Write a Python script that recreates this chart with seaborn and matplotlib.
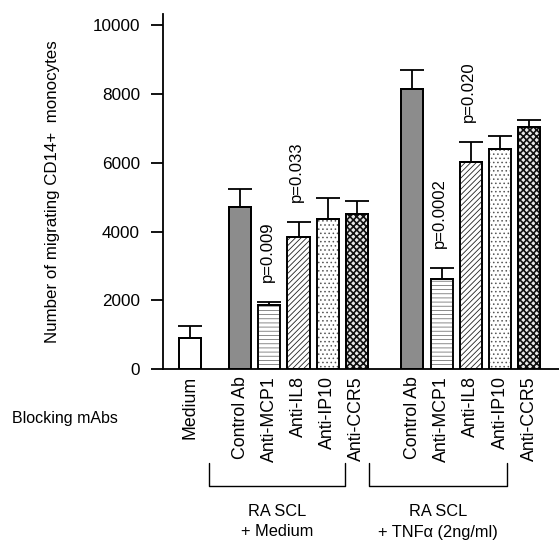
import numpy as np
import pandas as pd
import matplotlib
matplotlib.use("Agg")
import matplotlib.pyplot as plt
import seaborn as sns
from matplotlib.transforms import blended_transform_factory

# Data
labels = ["Medium", "Control Ab", "Anti-MCP1", "Anti-IL8", "Anti-IP10", "Anti-CCR5",
          "Control Ab", "Anti-MCP1", "Anti-IL8", "Anti-IP10", "Anti-CCR5"]
groups = ["none"] + ["RA SCL + Medium"] * 5 + ["RA SCL + TNFa"] * 5
means = [910, 4730, 1860, 3850, 4370, 4520, 8140, 2630, 6040, 6400, 7050]
errs = [350, 510, 90, 440, 620, 370, 550, 320, 570, 380, 185]
p_bars = [2, 3, 7, 8]
p_texts = ["p=0.009", "p=0.033", "p=0.0002", "p=0.020"]
group_titles = ["RA SCL\n+ Medium", "RA SCL\n+ TNF\u03b1 (2ng/ml)"]

sns.set_style("ticks")
plt.rcParams["font.family"] = ["Liberation Sans", "DejaVu Sans"]
plt.rcParams["hatch.linewidth"] = 0.6
for k in ["text.color", "axes.labelcolor", "xtick.color", "ytick.color",
          "axes.edgecolor"]:
    plt.rcParams[k] = "black"

# bar positions: lone medium bar, then two groups of five
pos = [0.0] + [1.72 + i for i in range(5)] + [7.62 + i for i in range(5)]
df = pd.DataFrame({"pos": pos, "label": labels, "group": groups,
                   "mean": means, "err": errs})

fig = plt.figure(figsize=(5.59, 5.40), dpi=100)
ax = fig.add_axes([0.2916, 0.3167, 0.7084, 0.6574])

sns.barplot(data=df, x="pos", y="mean", native_scale=True, color="white",
            edgecolor="black", linewidth=1.3, width=0.76, errorbar=None, ax=ax)

# fill styles per antibody: (face, hatch, hatch colour)
styles = {
    "Medium": ("white", "", "black"),
    "Control Ab": ("#8c8c8c", "", "black"),
    "Anti-MCP1": ("white", "----", "#777777"),
    "Anti-IL8": ("white", "//////", "#222222"),
    "Anti-IP10": ("white", "....", "#555555"),
    "Anti-CCR5": ("#e8e8e8", "xxxxx", "#111111"),
}
for patch, lab in zip(ax.patches, labels):
    fc, hatch, hc = styles[lab]
    patch.set_facecolor(fc)
    patch.set_hatch(hatch)
    # edge colour sets the hatch colour; the outline is drawn again below
    patch.set_edgecolor(hc)
    if lab == "Anti-CCR5":
        try:
            patch.set_hatch_linewidth(1.2)
        except AttributeError:
            pass
    x, w, h = patch.get_x(), patch.get_width(), patch.get_height()
    ax.add_patch(plt.Rectangle((x, 0), w, h, fill=False, edgecolor="black",
                               linewidth=1.3, zorder=patch.get_zorder() + 0.1))

ax.errorbar(df["pos"], df["mean"], yerr=[np.zeros(len(df)), df["err"]],
            fmt="none", ecolor="black", elinewidth=1.3, capsize=8.5, capthick=1.3)

for i, txt in zip(p_bars, p_texts):
    ax.text(pos[i] - 0.08, means[i] + errs[i] + 580, txt, rotation=90,
            ha="center", va="bottom", fontsize=12)

ax.set_ylim(0, 10335)
ax.set_xlim(-0.92, 12.64)
ax.set_yticks(range(0, 10001, 2000))
ax.set_xticks(pos)
ax.set_xticklabels(labels, rotation=90, fontsize=12.8)
ax.tick_params(axis="y", length=8.6, width=1.3, pad=8, labelsize=12.3)
ax.tick_params(axis="x", length=0, pad=5)
ax.set_xlabel("")
ax.set_ylabel("Number of migrating CD14+  monocytes", fontsize=12.2)
ax.yaxis.set_label_coords(-0.26, 0.5)
sns.despine(ax=ax)
ax.spines["left"].set_linewidth(1.3)
ax.spines["bottom"].set_linewidth(1.3)

fig.text(12 / 559, 1 - 418 / 540, "Blocking mAbs", ha="left", va="center",
         fontsize=11.5)

# group brackets under the tick labels
trans = blended_transform_factory(ax.transData, fig.transFigure)
bracket_spans = [(0.65, 5.31), (6.13, 10.86)]
for (x0, x1), title in zip(bracket_spans, group_titles):
    ax.plot([x0, x0, x1, x1], [0.1426, 0.10, 0.10, 0.1426], color="black",
            lw=1.0, transform=trans, clip_on=False)
    top, bottom = title.split("\n")
    ax.text((x0 + x1) / 2, 1 - 511 / 540, top, ha="center", va="center",
            fontsize=11.8, transform=trans)
    ax.text((x0 + x1) / 2, 1 - 532 / 540, bottom, ha="center", va="center",
            fontsize=11.8, transform=trans)

fig.savefig("out.png", dpi=100)
